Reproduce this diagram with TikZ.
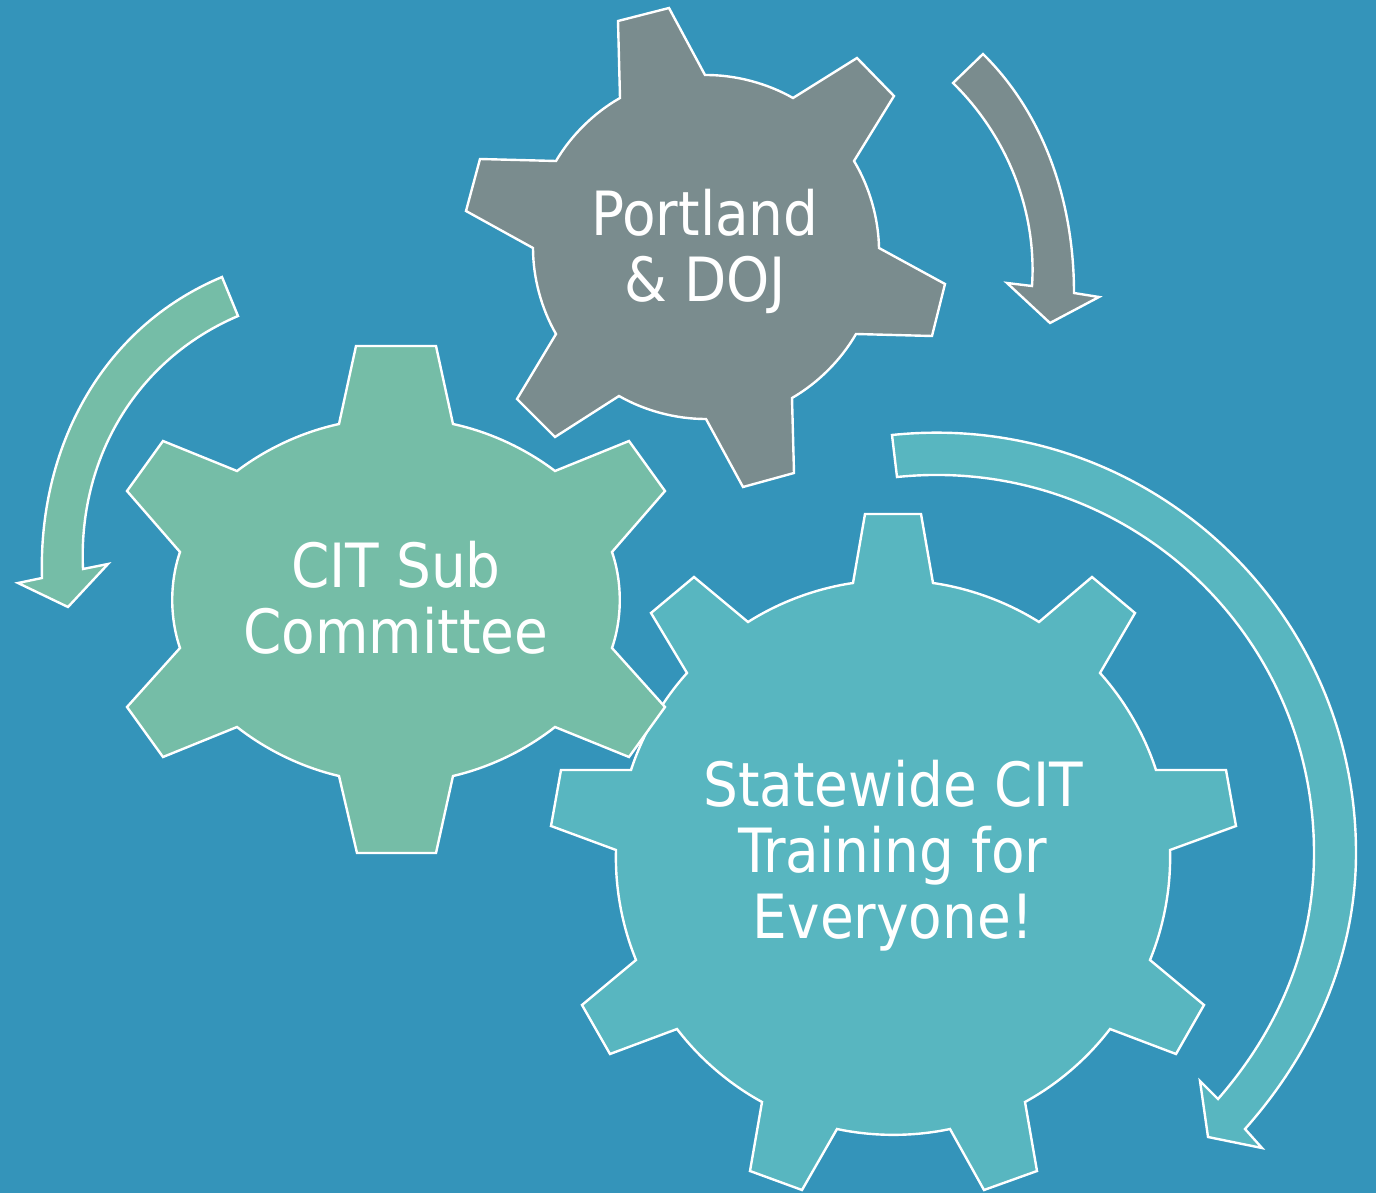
\documentclass[tikz,border=0pt]{standalone}
\usepackage{fontspec}
\setmainfont{DejaVu Sans Condensed}
\definecolor{bgblue}{HTML}{3494BA}
\definecolor{gearteal}{HTML}{58B6C0}
\definecolor{geargreen}{HTML}{75BDA7}
\definecolor{geargray}{HTML}{7A8C8E}
\tikzset{
  shapeline/.style={draw=white,line width=2.4pt,line join=miter,miter limit=4},
  gearlabel/.style={text=white,align=center,inner sep=0pt,font=\fontsize{61}{66}\selectfont},
  b/.style={bend left=#1,looseness=0.85}
}
\begin{document}
\begin{tikzpicture}[x=1pt,y=-1pt]
\useasboundingbox[fill=bgblue] (0,0) rectangle (1376,1193);
% gray gear
\draw[shapeline,fill=geargray] (618,21)--(669,8)--(705,75) to[b=15] (793,98)--(857,58)--(894,96)--(854,161) to[b=15] (879,248)--(945,284)--(932,336)--(856,334) to[b=15] (792,398)--(794,473)--(743,487)--(706,419) to[b=15] (619,396)--(555,437)--(517,399)--(556,334) to[b=15] (533,248)--(466,211)--(480,159)--(556,161) to[b=15] (620,98)--cycle;
% teal gear
\draw[shapeline,fill=gearteal] (865,514)--(921,514)--(933,583) to[b=12] (1039,622)--(1092,577)--(1135,613)--(1100,673) to[b=12] (1156,770)--(1226,770)--(1236,826)--(1170,850) to[b=12] (1150,960)--(1204,1005)--(1176,1054)--(1110,1029) to[b=12] (1025,1102)--(1037,1171)--(984,1190)--(950,1129) to[b=12] (837,1129)--(802,1190)--(750,1171)--(762,1102) to[b=12] (677,1029)--(610,1054)--(582,1005)--(636,960) to[b=12] (616,850)--(551,826)--(561,770)--(631,770) to[b=12] (687,673)--(651,613)--(694,577)--(748,622) to[b=12] (853,583)--cycle;
% green gear
\draw[shapeline,fill=geargreen] (356,346)--(436,346)--(453,424) to[b=12.5] (555,471)--(629,441)--(665,491)--(612,552) to[b=19] (612,648)--(665,707)--(629,757)--(555,727) to[b=12.5] (453,776)--(436,853)--(357,853)--(339,776) to[b=12.5] (237,727)--(163,757)--(127,707)--(180,648) to[b=19] (180,552)--(127,491)--(163,441)--(237,471) to[b=12.5] (339,424)--cycle;
% arrows
\draw[shapeline,fill=geargray] (953,83)--(983,54) .. controls (1046,116) and (1074,205) .. (1074,293)--(1099,297)--(1050,323)--(1007,283)--(1032,286) .. controls (1037,212) and (1008,137) .. (953,83)--cycle;
\draw[shapeline,fill=geargreen] (222,277)--(238,316) .. controls (135,360) and (78,460) .. (83,569)--(108,564)--(68,607)--(18,583)--(42,578) .. controls (38,450) and (100,328) .. (222,277)--cycle;
\draw[shapeline,fill=gearteal] (892,435) .. controls (1141,409) and (1356,603) .. (1356,853) .. controls (1356,956) and (1313.5,1052) .. (1245,1129)--(1262,1148)--(1208,1137)--(1200,1081)--(1218,1099) .. controls (1279,1029) and (1314,946) .. (1314,853) .. controls (1314,628) and (1121,454) .. (897,477)--cycle;
% labels
\node[gearlabel] (portland) at (705,251.5) {Portland\\\& DOJ};
\node[gearlabel] (cit) at (396,598) {CIT Sub\\Committee};
\node[gearlabel] (state) at (893,856) {Statewide CIT\\Training for\\Everyone!};
\end{tikzpicture}
\end{document}
